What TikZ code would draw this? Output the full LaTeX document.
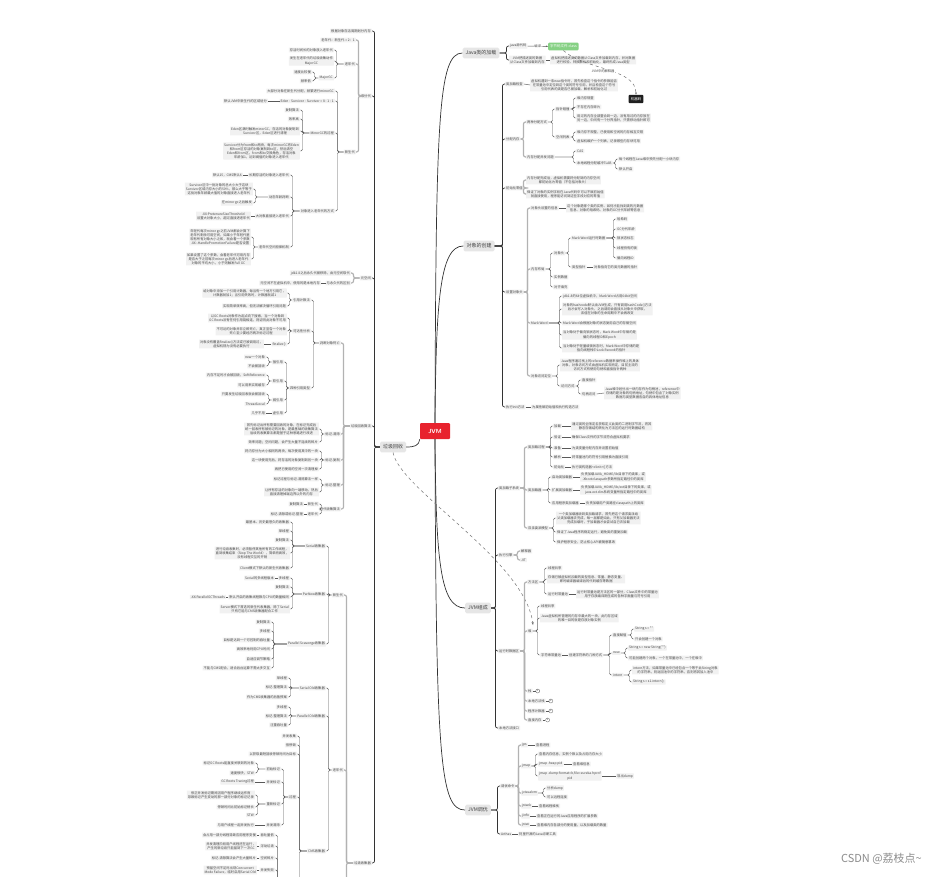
\documentclass[tikz,border=0pt]{standalone}
\usepackage{fontspec}
\newfontfamily\cjk{Noto Sans CJK SC}
\usetikzlibrary{arrows.meta}
\definecolor{boxc}{HTML}{F1F1F1}
\definecolor{mainc}{HTML}{E6E6E6}
\definecolor{jvmred}{HTML}{E8222D}
\definecolor{codegreen}{HTML}{86D184}
\newcommand\LN[4][]{\node[lb,#1] (#2) at (#3) {#4};}
\newcommand\RN[4][]{\node[rb,#1] (#2) at (#3) {#4};}
\newcommand\EL[3][k3]{\draw[#1] (#2.west) -| ([xshift=2.5pt]#3.east) -- (#3.east);}
\newcommand\ER[3][k3]{\draw[#1] (#2.east) -| ([xshift=-2.5pt]#3.west) -- (#3.west);}
\newcommand\ELs[3][k3]{\foreach \cc in {#3}{\EL[#1]{#2}{\cc}}}
\newcommand\ERs[3][k3]{\foreach \cc in {#3}{\ER[#1]{#2}{\cc}}}
\newcommand\SLL[2]{\draw[k3] (#1.west) -- (#2.east);}
\newcommand\SLR[2]{\draw[k3] (#1.east) -- (#2.west);}
\begin{document}
\begin{tikzpicture}[x=1pt,y=-1pt,
  box/.style={fill=boxc,text=black!72,font=\cjk\fontsize{3.3}{4.1}\selectfont,inner xsep=1pt,inner ysep=0.8pt,align=center,rounded corners=0.4pt},
  lb/.style={box,anchor=east},
  rb/.style={box,anchor=west},
  mainbox/.style={fill=mainc,text=black!75,font=\cjk\fontsize{5}{6}\selectfont,inner xsep=3pt,inner ysep=3pt,rounded corners=1.5pt},
  k1/.style={draw=black!80,line width=0.7pt,rounded corners=2pt},
  k2/.style={draw=black!30,line width=1.2pt,rounded corners=2pt},
  k3/.style={draw=black!65,line width=0.45pt,rounded corners=1.5pt},
  mk/.style={circle,draw=black!60,line width=0.35pt,minimum size=4pt,inner sep=0pt,font=\cjk\fontsize{2.6}{3}\selectfont,text=black!70},
]
\fill[white] (0,0) rectangle (926,876);
\useasboundingbox (0,0) rectangle (926,876);

% ---------------- root ----------------
\node[fill=jvmred,text=white,font=\sffamily\bfseries\fontsize{6}{7}\selectfont,minimum width=30pt,minimum height=16pt,inner sep=0pt,rounded corners=1pt] (jvm) at (435,431) {JVM};
\node[mainbox] (lc) at (393,447) {垃圾回收};
\node[mainbox] (R1) at (481,53) {Java类的加载};
\node[mainbox] (R2) at (479,246) {对象的创建};
\node[mainbox] (R3) at (478,608) {JVM组成};
\node[mainbox] (R4) at (478,810) {JVM调优};
\draw[k1] (jvm.north) .. controls (436,120) and (438,53) .. (R1.west);
\draw[k1] (jvm.north) .. controls (436,300) and (440,246) .. (R2.west);
\draw[k1] (jvm.south) .. controls (436,560) and (440,608) .. (R3.west);
\draw[k1] (jvm.south) .. controls (436,760) and (440,810) .. (R4.west);
\draw[k1] (jvm.south west) .. controls (419,446) and (414,447) .. (lc.east);
\draw[black!55,line width=0.5pt,dashed,-{Stealth[length=3pt]}] (lc.south) .. controls (400,490) and (525,560) .. (533,625);

% ---------------- left tree: 垃圾回收 ----------------
\LN{t1}{372,31}{根据对象存活周期划分内存}
\LN{t2}{372,96}{堆分代}
\LN{t3}{372,278}{元空间}
\LN{t4}{372,426}{垃圾回收算法}
\LN{t5}{372,863}{垃圾收集器}
\ELs[k1]{lc}{t1,t2,t3,t4,t5}

\LN{f1}{356,40}{老年代：新生代 = 2：1}
\LN{f2}{356,64}{老年代}
\LN{f3}{356,152}{新生代}
\ELs[k2]{t2}{f1,f2,f3}

\LN{o1}{334,50}{存活时间长的对象放入老年代}
\LN{o2}{334,61}{发生在老年代的垃圾收集动作\\MajorGC}
\LN{o3}{334,78}{MajorGC}
\ELs{f2}{o1,o2,o3}
\LN{o3a}{312,72}{速度比较慢}
\LN{o3b}{312,81}{频率低}
\ELs{o3}{o3a,o3b}

\LN{n1}{335,91}{大部分对象在新生代分配，频繁进行minorGC}
\LN{n2}{335,101}{Eden : Survivor : Survivor = 8 : 1 : 1}
\LN{n2a}{268,101}{默认JVM中新生代的区域划分}
\SLL{n2}{n2a}
\LN{n3}{335,133}{MinorGC的过程}
\LN{n4}{335,211}{对象进入老年代的方式}
\ELs{f3}{n1,n2,n3,n4}
\LN{m1}{300,110}{复制算法}
\LN{m2}{300,119}{效率高}
\LN{m3}{300,131}{Eden区满时触发minorGC，存活的对象复制到\\Survivor区，Eden区进行清理}
\LN{m4}{300,151}{Survivor分为from和to两块，每次minorGC将Eden\\和from区存活的对象复制到to区，然后清空\\Eden和from区，from和to交换角色，存活对象\\年龄加1，达到阈值的对象进入老年代}
\ELs{n3}{m1,m2,m3,m4}
\LN{a1}{290,175}{长期存活的对象进入老年代}
\LN{a1l}{243,175}{默认15，CMS默认6}
\SLL{a1}{a1l}
\LN{a2}{290,197}{动态年龄判断}
\LN{a2a}{253,189}{Survivor区中一批对象的总大小大于这块\\Survivor区域内存大小的50\%，那么大于等于\\这批对象年龄最大值的对象直接进入老年代}
\LN{a2b}{253,203}{在minor gc之后触发}
\ELs{a2}{a2a,a2b}
\LN{a3}{290,216}{大对象直接进入老年代}
\LN{a3l}{251,216}{-XX:PretenureSizeThreshold\\设置大对象大小，超过直接进老年代}
\SLL{a3}{a3l}
\LN{a4}{290,247}{老年代空间担保机制}
\LN{a4a}{251,237}{年轻代每次minor gc之前JVM都会计算下\\老年代剩余可用空间，如果小于年轻代里\\现有所有对象大小之和，就会看一个参数\\-XX:-HandlePromotionFailure是否设置}
\LN{a4b}{251,259}{如果设置了这个参数，会看老年代可用内存\\是否大于之前每次minor gc后进入老年代\\对象的平均大小，小于则触发Full GC}
\ELs{a4}{a4a,a4b}
\ELs{n4}{a1,a2,a3,a4}

\LN{p1}{351,273}{jdk1.8之后永久代被移除，由元空间取代}
\LN{p2}{351,283}{与永久代的区别}
\LN{p2l}{321,283}{元空间不在虚拟机中，使用的是本地内存}
\SLL{p2}{p2l}
\ELs[k2]{t3}{p1,p2}

\LN{d1}{341,343}{判断对象死亡}
\LN{d2}{341,434}{标记-清除}
\LN{d3}{341,460}{标记-复制}
\LN{d4}{341,485}{标记-整理}
\LN{d5}{341,509}{分代收集算法}
\ELs[k2]{t4}{d1,d2,d3,d4,d5}
\LN{d1a}{311,300}{引用计数法}
\LN{d1b}{311,331}{可达性分析}
\LN{d1c}{311,388}{四种引用类型}
\ELs{d1}{d1a,d1b,d1c}
\LN{d1a1}{287,293}{给对象中添加一个引用计数器，每当有一个地方引用它，\\计数器就加1；当引用失效时，计数器就减1}
\LN{d1a2}{287,306}{实现简单效率高，但无法解决循环引用问题}
\ELs{d1a}{d1a1,d1a2}
\LN{d1b1}{287,318}{以GC Roots对象作为起点向下搜索，当一个对象到\\GC Roots没有任何引用链相连，则证明此对象不可用}
\LN{d1b2}{287,331}{不可达的对象并非立即死亡，真正宣告一个对象\\死亡至少要经历两次标记过程}
\LN{d1b3}{287,344}{finalize()}
\LN{d1b3l}{264,344}{对象没有覆盖finalize()方法或已被调用过，\\虚拟机视为没有必要执行}
\SLL{d1b3}{d1b3l}
\ELs{d1b}{d1b1,d1b2,d1b3}
\LN{r1}{284,362}{强引用}
\LN{r2}{284,381}{软引用}
\LN{r3}{284,400}{弱引用}
\LN{r4}{284,413}{虚引用}
\ELs{d1c}{r1,r2,r3,r4}
\LN{r1a}{266,357}{new一个对象}
\LN{r1b}{266,366}{不会被回收}
\ELs{r1}{r1a,r1b}
\LN{r2a}{266,375}{内存不足时才会被回收，SoftReference}
\LN{r2b}{266,385}{可以用来实现缓存}
\ELs{r2}{r2a,r2b}
\LN{r3a}{266,394}{只要发生垃圾回收就会被回收}
\LN{r3b}{266,404}{ThreadLocal}
\ELs{r3}{r3a,r3b}
\LN{r4l}{266,413}{几乎不用}
\SLL{r4}{r4l}
\LN{d2a}{319,429}{首先标记出所有需要回收的对象，在标记完成后\\统一回收所有被标记的对象，是最基础的收集算法\\后续的收集算法都是基于这种思路进行改进}
\LN{d2b}{319,442}{效率问题；空间问题，会产生大量不连续的碎片}
\ELs{d2}{d2a,d2b}
\LN{d3a}{319,451}{将内存分为大小相同的两块，每次使用其中的一块}
\LN{d3b}{319,460}{这一块使用完后，将存活的对象复制到另一块}
\LN{d3c}{319,469}{再把已使用的空间一次清理掉}
\ELs{d3}{d3a,d3b,d3c}
\LN{d4a}{319,479}{标记过程与标记-清除算法一样}
\LN{d4b}{319,492}{让所有存活的对象向一端移动，然后\\直接清理掉端边界以外的内存}
\ELs{d4}{d4a,d4b}
\LN{d5a}{319,504}{新生代}
\LN{d5al}{304,504}{复制算法}
\SLL{d5a}{d5al}
\LN{d5b}{319,514}{老年代}
\LN{d5bl}{304,514}{标记-清除或标记-整理}
\SLL{d5b}{d5bl}
\ELs{d5}{d5a,d5b}

% 垃圾收集器
\LN{g1}{344,595}{新生代}
\LN{g2}{344,770}{老年代}
\coordinate (g3) at (346.5,1000);
\ELs[k2]{t5}{g1,g2}
\draw[k2] (t5.west) -| (g3);
\LN{s1}{326,546}{Serial收集器}
\LN{s2}{326,594}{ParNew收集器}
\LN{s3}{326,644}{Parallel Scavenge收集器}
\ELs{g1}{s1,s2,s3}
\LN{s1a}{290,522}{最基本、历史最悠久的收集器}
\LN{s1b}{290,531}{单线程}
\LN{s1c}{290,540}{复制算法}
\LN{s1d}{290,553}{进行垃圾收集时，必须暂停其他所有的工作线程，\\直到收集结束（Stop The World），简单而高效，\\没有线程交互的开销}
\LN{s1e}{290,568}{Client模式下默认的新生代收集器}
\ELs{s1}{s1a,s1b,s1c,s1d,s1e}
\LN{s2a}{290,578}{多线程}
\LN{s2al}{275,578}{Serial的多线程版本}
\SLL{s2a}{s2al}
\LN{s2b}{290,587}{复制算法}
\LN{s2c}{290,597}{默认开启的收集线程数与CPU的数量相同}
\LN{s2cl}{226,597}{-XX:ParallelGCThreads}
\SLL{s2c}{s2cl}
\LN{s2d}{290,609}{Server模式下首选的新生代收集器，除了Serial\\只有它能与CMS收集器配合工作}
\ELs{s2}{s2a,s2b,s2c,s2d}
\LN{s3a}{271,622}{复制算法}
\LN{s3b}{271,631}{多线程}
\LN{s3c}{271,640}{目标是达到一个可控制的吞吐量}
\LN{s3d}{271,649}{高效率地利用CPU时间}
\LN{s3e}{271,659}{自适应调节策略}
\LN{s3f}{271,668}{不能与CMS配合，适合后台运算不需太多交互}
\ELs{s3}{s3a,s3b,s3c,s3d,s3e,s3f}
\LN{s4}{326,688}{Serial Old收集器}
\LN{s5}{326,716}{Parallel Old收集器}
\LN{s6}{326,851}{CMS收集器}
\ELs{g2}{s4,s5,s6}
\LN{s4a}{288,678}{单线程}
\LN{s4b}{288,687}{标记-整理算法}
\LN{s4c}{288,697}{作为CMS收集器的后备预案}
\ELs{s4}{s4a,s4b,s4c}
\LN{s5a}{288,707}{多线程}
\LN{s5b}{288,716}{标记-整理算法}
\LN{s5c}{288,725}{注重吞吐量}
\ELs{s5}{s5a,s5b,s5c}
\LN{c1}{297,736}{并发收集}
\LN{c2}{297,745}{低停顿}
\LN{c3}{297,754}{以获取最短回收停顿时间为目标}
\LN{c4}{297,797}{过程}
\coordinate (c5) at (299.5,1000);
\ELs{s6}{c1,c2,c3,c4}
\draw[k3] (s6.west) -| (c5);
\LN{i1}{281,769}{初始标记}
\LN{i2}{281,782}{并发标记}
\LN{i3}{281,804}{重新标记}
\LN{i4}{281,825}{并发清除}
\ELs{c4}{i1,i2,i3,i4}
\LN{i1a}{255,763}{标记GC Roots能直接关联到的对象}
\LN{i1b}{255,773}{速度很快，STW}
\ELs{i1}{i1a,i1b}
\LN{i2l}{255,782}{GC Roots Tracing过程}
\SLL{i2}{i2l}
\LN{i3a}{255,795}{修正并发标记期间因用户程序继续运作而\\导致标记产生变动的那一部分对象的标记记录}
\LN{i3b}{255,807}{停顿时间比初始标记稍长}
\LN{i3c}{255,815}{STW}
\ELs{i3}{i3a,i3b,i3c}
\LN{i4l}{255,825}{与用户线程一起并发执行}
\SLL{i4}{i4l}
\coordinate (c6) at (277.5,1000);
\LN{e1}{275,835}{吞吐量低}
\LN{e2}{275,846}{浮动垃圾}
\LN{e3}{275,858}{空间碎片}
\LN{e4}{275,870}{并发失败}
\foreach \e in {e1,e2,e3,e4} {\draw[k3] (c6) |- (\e.east);}
\LN{e1l}{257,835}{会占用一部分线程导致应用程序变慢}
\LN{e2l}{257,846}{并发清理阶段用户线程还在运行，\\产生的新垃圾只能留到下一次GC}
\LN{e3l}{257,858}{标记-清除算法会产生大量碎片}
\LN{e4l}{257,870}{预留空间不足时出现Concurrent\\Mode Failure，临时启用Serial Old}
\SLL{e1}{e1l}\SLL{e2}{e2l}\SLL{e3}{e3l}\SLL{e4}{e4l}

% ---------------- right tree: Java类的加载 ----------------
\RN{j1}{509,46}{java源代码}
\node[fill=codegreen,text=white,font=\cjk\fontsize{3.5}{4}\selectfont,inner xsep=2pt,inner ysep=2.2pt,rounded corners=1pt,anchor=west] (j2) at (548,46.5) {字节码文件.class};
\draw[k3,-{Stealth[length=2pt]}] (j1) -- node[fill=white,text=black!70,font=\cjk\fontsize{3.3}{4}\selectfont,inner sep=0.3pt]{编译} (j2);
\RN{j3}{509,60}{JVM把描述类的数据\\从Class文件加载到内存}
\RN{j3r}{550,60}{虚拟机把描述类的数据从Class文件加载到内存，并对数据\\进行校验、转换解析和初始化，最终形成Java类型}
\SLR{j3}{j3r}
\ERs[k1]{R1}{j1,j3}
\node[fill=black!88,text=white,font=\cjk\fontsize{3.5}{4}\selectfont,inner xsep=2.2pt,inner ysep=2.5pt,rounded corners=1pt] (j4) at (636,99) {机器码};
\draw[black!60,line width=0.45pt,dashed,-{Stealth[length=2.5pt]}] (j2.south) .. controls (585,70) and (636,68) .. node[pos=.45,below=0.6pt,fill=white,text=black!70,font=\cjk\fontsize{3.3}{4}\selectfont,inner sep=0.3pt]{JVM中的解释器} (j4.north);

% ---------------- 对象的创建 ----------------
\RN{ob1}{505,84}{类加载检查}
\RN{ob1r}{530,85}{虚拟机遇到一条new指令时，首先检查这个指令的参数能否\\在常量池中定位到这个类的符号引用，并且检查这个符号\\引用代表的类是否已被加载、解析和初始化过}
\SLR{ob1}{ob1r}
\RN{ob2}{505,139}{分配内存}
\RN{ob3}{505,188}{初始化零值}
\RN{ob4}{505,292}{设置对象头}
\RN{ob5}{505,407}{执行init方法}
\RN{ob5r}{531,407}{为属性赋初始值和执行构造方法}
\SLR{ob5}{ob5r}
\ERs[k1]{R2}{ob1,ob2,ob3,ob4,ob5}
\RN{ob2a}{526,122}{两种分配方式}
\RN{ob2b}{526,157}{内存分配并发问题}
\ERs[k2]{ob2}{ob2a,ob2b}
\RN{zz1}{555,109}{指针碰撞}
\RN{zz2}{555,137}{空闲列表}
\ERs{ob2a}{zz1,zz2}
\RN{zz1a}{576,98}{堆内存规整}
\RN{zz1b}{576,107}{不存在内存碎片}
\RN{zz1c}{576,118}{用过的内存全部整合到一边，没有用过的内存放在\\另一边，中间有一个分界指针，只需移动指针即可}
\ERs{zz1}{zz1a,zz1b,zz1c}
\RN{zz2a}{576,132}{堆内存不规整，已使用和空闲的内存相互交错}
\RN{zz2b}{576,141}{虚拟机维护一个列表，记录哪些内存块可用}
\ERs{zz2}{zz2a,zz2b}
\RN{zz3}{576,151}{CAS}
\RN{zz4}{576,163}{本地线程分配缓冲TLAB}
\ERs{ob2b}{zz3,zz4}
\RN{zz4a}{618,159}{每个线程在Java堆中预先分配一小块内存}
\RN{zz4b}{618,169}{默认开启}
\ERs{zz4}{zz4a,zz4b}
\RN{ob3a}{526,180}{内存分配完成后，虚拟机需要将分配到的内存空间\\都初始化为零值（不包括对象头）}
\RN{ob3b}{526,194}{保证了对象的实例字段在Java代码中可以不赋初始值\\就直接使用，程序能访问到这些字段对应的零值}
\ERs[k2]{ob3}{ob3a,ob3b}
\RN{ob4a}{530,208}{对象头设置的信息}
\RN{ob4b}{530,269}{内存布局}
\RN{ob4c}{530,323}{Mark Word}
\RN{ob4d}{530,376}{对象访问定位}
\ERs[k2]{ob4}{ob4a,ob4b,ob4c,ob4d}
\RN{ob4ar}{566,208}{这个对象是哪个类的实例、如何才能找到类的元数据\\信息、对象的哈希码、对象的GC分代年龄等信息}
\SLR{ob4a}{ob4ar}
\RN{ly1}{553,253}{对象头}
\RN{ly2}{553,277}{实例数据}
\RN{ly3}{553,287}{对齐填充}
\ERs{ob4b}{ly1,ly2,ly3}
\RN{ly1a}{571,238}{Mark Word运行时数据}
\RN{ly1b}{571,267}{类型指针}
\ERs{ly1}{ly1a,ly1b}
\RN{mw1}{616,219}{哈希码}
\RN{mw2}{616,229}{GC分代年龄}
\RN{mw3}{616,238}{锁状态标志}
\RN{mw4}{616,248}{线程持有的锁}
\RN{mw5}{616,258}{偏向线程ID}
\ERs{ly1a}{mw1,mw2,mw3,mw4,mw5}
\RN{ly1br}{593,267}{对象指向它的类元数据的指针}
\SLR{ly1b}{ly1br}
\RN{mk1}{562,296}{jdk1.8的64位虚拟机中，Mark Word占用64bit空间}
\RN{mk2}{562,309}{对象的hashcode默认由JVM生成，只有调用hashCode()方法\\后才会写入对象头，之后调用会直接从对象头中获取，\\该值在对象的生命周期中不会再改变}
\RN{mk3}{562,323}{Mark Word会根据对象的状态复用自己的存储空间}
\RN{mk4}{562,335}{当对象处于偏向锁状态时，Mark Word中存储的是\\偏向的线程ID和Epoch}
\RN{mk5}{562,348}{当对象处于轻量级锁状态时，Mark Word中存储的是\\指向线程栈中Lock Record的指针}
\ERs{ob4c}{mk1,mk2,mk3,mk4,mk5}
\RN{fw1}{560,365}{Java程序通过栈上的reference数据来操作堆上的具体\\对象，对象访问方式由虚拟机实现而定，目前主流的\\访问方式有使用句柄和直接指针两种}
\RN{fw2}{560,386}{访问方式}
\ERs{ob4d}{fw1,fw2}
\RN{fw2a}{581,380}{直接指针}
\RN{fw2b}{581,394}{句柄访问}
\ERs{fw2}{fw2a,fw2b}
\RN{fw2br}{604,393}{Java堆中划分出一块内存作为句柄池，reference中\\存储的是对象的句柄地址，句柄中包含了对象实例\\数据与类型数据各自的具体地址信息}
\SLR{fw2b}{fw2br}

% ---------------- JVM组成 ----------------
\RN{v1}{498,488}{类加载子系统}
\RN{v2}{498,555}{执行引擎}
\RN{v3}{498,651}{运行时数据区}
\RN{v4}{498,728}{本地方法接口}
\ERs[k1]{R3}{v1,v2,v3,v4}
\RN{v1a}{527,447}{类加载过程}
\RN{v1b}{527,490}{类加载器}
\RN{v1c}{527,528}{双亲委派模型}
\ERs[k2]{v1}{v1a,v1b,v1c}
\RN{lp1}{553,426}{加载}
\RN{lp2}{553,437}{验证}
\RN{lp3}{553,448}{准备}
\RN{lp4}{553,457}{解析}
\RN{lp5}{553,467}{初始化}
\ERs{v1a}{lp1,lp2,lp3,lp4,lp5}
\RN{lp1r}{571,426}{通过类的全限定名获取定义此类的二进制字节流，将其\\静态存储结构转化为方法区的运行时数据结构}
\RN{lp2r}{571,437}{确保Class文件的字节流符合虚拟机要求}
\RN{lp3r}{571,448}{为类变量分配内存并设置初始值}
\RN{lp4r}{571,457}{将常量池内的符号引用替换为直接引用}
\RN{lp5r}{571,467}{执行类构造器<clinit>()方法}
\SLR{lp1}{lp1r}\SLR{lp2}{lp2r}\SLR{lp3}{lp3r}\SLR{lp4}{lp4r}\SLR{lp5}{lp5r}
\RN{cl1}{551,477}{启动类加载器}
\RN{cl2}{551,490}{扩展类加载器}
\RN{cl3}{551,503}{应用程序类加载器}
\ERs{v1b}{cl1,cl2,cl3}
\RN{cl1r}{580,477}{负责加载JAVA\_HOME/lib目录下的类库，或\\-Xbootclasspath参数所指定路径中的类库}
\RN{cl2r}{580,490}{负责加载JAVA\_HOME/lib/ext目录下的类库，或\\java.ext.dirs系统变量所指定路径中的类库}
\RN{cl3r}{585,503}{负责加载用户类路径classpath上的类库}
\SLR{cl1}{cl1r}\SLR{cl2}{cl2r}\SLR{cl3}{cl3r}
\RN{sq1}{556,518}{一个类加载器收到类加载请求，首先把这个请求委派给\\父类加载器去完成，每一层都是如此，只有父加载器无法\\完成加载时，子加载器才会尝试自己去加载}
\RN{sq2}{556,532}{保证了Java程序的稳定运行，避免类的重复加载}
\RN{sq3}{556,542}{保护程序安全，防止核心API被随意篡改}
\ERs{v1c}{sq1,sq2,sq3}
\RN{ee1}{520,551}{解释器}
\RN{ee2}{520,560}{JIT}
\ERs[k2]{v2}{ee1,ee2}
\RN{h1}{527,582}{方法区}
\RN{h2}{527,631}{堆}
\RN{h3}{527,691}{栈}
\RN{h4}{527,701}{本地方法栈}
\RN{h5}{527,711}{程序计数器}
\RN{h6}{527,720}{直接内存}
\ERs[k2]{v3}{h1,h2,h3,h4,h5,h6}
\foreach \h/\n in {h3/3,h4/2,h5/2,h6/2} {\node[mk] (\h m) at ([xshift=5pt]\h.east) {\n}; \draw[k3] (\h.east) -- (\h m.west);}
\RN{h1a}{547,568}{线程共享}
\RN{h1b}{547,579}{存储已被虚拟机加载的类型信息、常量、静态变量、\\即时编译器编译后的代码缓存等数据}
\RN{h1c}{547,594}{运行时常量池}
\ERs{h1}{h1a,h1b,h1c}
\RN{h1cr}{576,594}{运行时常量池是方法区的一部分，Class文件中的常量池\\用于存放编译期生成的各种字面量与符号引用}
\SLR{h1c}{h1cr}
\RN{hp1}{540,606}{线程共享}
\RN{hp2}{540,618}{Java虚拟机所管理的内存中最大的一块，此内存区域\\的唯一目的就是存放对象实例}
\RN{hp3}{540,655}{字符串常量池}
\ERs{h2}{hp1,hp2,hp3}
\RN{hp3r}{568,655}{创建字符串的几种方式}
\SLR{hp3}{hp3r}
\RN{st1}{612,635}{直接赋值}
\RN{st2}{612,653}{new}
\RN{st3}{612,675}{intern}
\ERs{hp3r}{st1,st2,st3}
\RN{st1a}{634,629}{String s = ""}
\RN{st1b}{634,639}{只会创建一个对象}
\ERs{st1}{st1a,st1b}
\RN{st2a}{628,648}{String s = new String("")}
\RN{st2b}{628,658}{可能创建两个对象，一个在常量池中，一个在堆中}
\ERs{st2}{st2a,st2b}
\RN{st3a}{632,670}{intern方法，如果常量池中已经包含一个等于此String对象\\的字符串，则返回池中的字符串，否则将其加入池中}
\RN{st3b}{632,682}{String s = s1.intern();}
\ERs{st3}{st3a,st3b}

% ---------------- JVM调优 ----------------
\RN{u1}{500,786}{调优命令}
\RN{u2}{500,834}{Arthas}
\ERs[k1]{R4}{u1,u2}
\RN{u2r}{518,834}{阿里开源的Java诊断工具}
\SLR{u2}{u2r}
\RN{cm1}{521,745}{jps}
\RN{cm2}{521,766}{jmap}
\RN{cm3}{521,793}{jvisualvm}
\RN{cm4}{521,806}{jstack}
\RN{cm5}{521,816}{jinfo}
\RN{cm6}{521,825}{jstat}
\ERs[k2]{u1}{cm1,cm2,cm3,cm4,cm5,cm6}
\RN{cm1r}{535,745}{查看进程}
\SLR{cm1}{cm1r}
\RN{jm1}{538,754}{查看内存信息，实例个数以及占用内存大小}
\RN{jm2}{538,764}{jmap -heap pid}
\RN{jm3}{538,776}{jmap -dump:format=b,file=eureka.hprof\\pid}
\ERs{cm2}{jm1,jm2,jm3}
\RN{jm2r}{572,764}{查看堆信息}
\SLR{jm2}{jm2r}
\RN{jm3r}{616,776}{导出dump}
\SLR{jm3}{jm3r}
\RN{cv1}{546,788}{分析dump}
\RN{cv2}{546,797}{可以远程连接}
\ERs{cm3}{cv1,cv2}
\RN{cm4r}{538,806}{查看线程堆栈}
\SLR{cm4}{cm4r}
\RN{cm5r}{536,816}{查看正在运行的Java应用程序的扩展参数}
\SLR{cm5}{cm5r}
\RN{cm6r}{536,825}{查看堆内存各部分的使用量，以及加载类的数量}
\SLR{cm6}{cm6r}

% watermark
\node[anchor=east,text=black!45,font=\cjk\fontsize{11}{12}\selectfont,inner sep=0pt] (wm) at (922,859) {CSDN @荔枝点\char"007E};
\end{tikzpicture}
\end{document}
